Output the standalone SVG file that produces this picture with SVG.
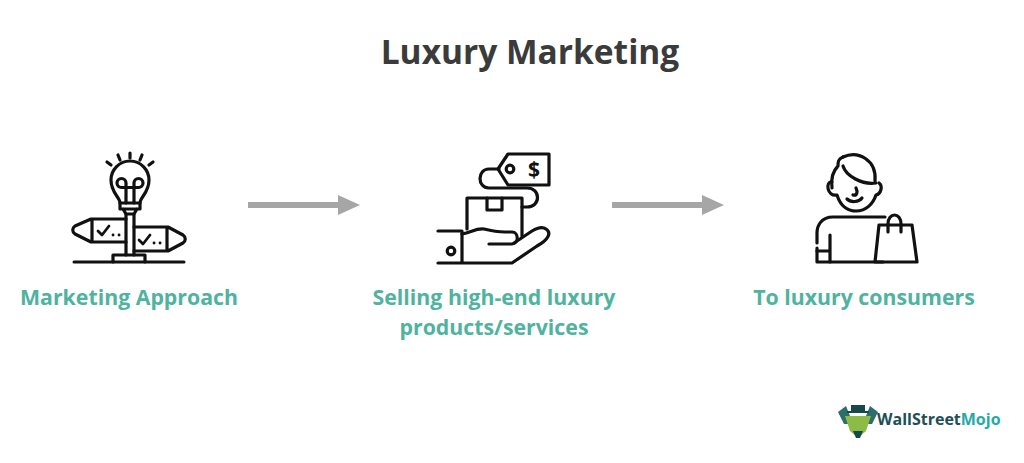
<svg xmlns="http://www.w3.org/2000/svg" width="1024" height="463" viewBox="0 0 1024 463">
<style>
.t{font-family:"Open Sans","Noto Sans",sans-serif;font-weight:700;text-anchor:middle}
.l{fill:#4fb3a0;font-size:21.3px}
.i{fill:none;stroke:#111;stroke-width:3.2;stroke-linecap:round;stroke-linejoin:round}
.c{fill:none;stroke:#a6a6a6;stroke-width:6}
.h{fill:#a6a6a6}
</style>
<rect width="1024" height="463" fill="#fff"/>
<text id="title" class="t" x="530" y="64" font-size="33.500" fill="#3b3b3b">Luxury Marketing</text>
<g id="connectors">
<path class="c" d="M248 205H340"/><path class="h" d="M338 195L360 205L338 215Z"/>
<path class="c" d="M612 205H704"/><path class="h" d="M702 195L724 205L702 215Z"/>
</g>
<g id="node-approach">
<g class="i">
<path d="M120 203C120 197 111 193 111 180A18.500 18.500 0 0 1 149 180C149 193 140 197 140 203Z"/>
<path d="M126 203V183A4.500 4.500 0 1 0 121.500 187.500H138.500A4.500 4.500 0 1 0 134 183V203"/>
<path d="M120 203V209H140V203M123 209L126 214H134L137 209"/>
<path d="M126 214V255M134 214V255"/>
<path d="M126 219H91L75 226C72 228 72 232 75 234L91 242H126M92 219V242"/>
<path d="M134 227H168L183 235C186 237 186 241 183 243L168 251H134M167 227V251"/>
<path d="M113 262V255H145V262"/>
<path d="M74 262H184" stroke-width="3"/>
<path d="M130 153V158M118 155L120 160M142 155L140 160M107 162L111 165M153 162L149 165"/>
<path d="M98 231L102 235L109 226M113 235H113.100M119 235H119.100" stroke-width="2.800"/>
<path d="M139 240L143 244L150 235M154 243H154.100M160 243H160.100" stroke-width="2.800"/>
</g>
</g>
<g id="node-selling">
<g class="i">
<path d="M498 169L508 154H549V185H508Z"/>
<circle cx="510" cy="169" r="3.800"/>
<path d="M499 169H489C477 169 477 188 489 188H527C541 188 541 207 527 207H522"/>
<path d="M467 229V198H522V236"/>
<path d="M487 198V210H502V198"/>
<path d="M438 231H462V263M438 263H512L537 246C548 240 552 233 546 229C542 226 537 228 532 231L514 243"/>
<path d="M462 234C472 232 476 228 484 229C492 231 498 232 505 232H512C519 232 519 244 512 244H489"/>
<circle cx="451" cy="251" r="3.800"/>
</g>
<text x="534" y="177" font-family="Open Sans,sans-serif" font-size="21" font-weight="700" text-anchor="middle" fill="#111">$</text>
</g>
<g id="node-consumers">
<g class="i">
<path d="M843 157C858 150 877 160 875 181"/>
<path d="M838 166C832 172 831 180 832 188M843 157C838 159 838 162 838 166"/>
<path d="M843 166C846 176 862 185 876 183"/>
<path d="M832 182C825 181 827 197 837 195C841 208 850 211 856 211C866 211 873 204 876 195C881 194 883 186 879 183"/>
<path d="M856 188C858 192 857 196 853 195M847 199C851 203 859 202 862 198"/>
<path d="M885 217H833C821 217 817 226 817 233V243M817 248V262H883"/>
<path d="M830 235V262M817 251H830"/>
<path d="M879 225H912L917 262H875Z"/>
<path d="M888 232V224C888 212 901 212 901 224V232"/>
</g>
</g>
<text class="t l" x="129" y="305">Marketing Approach</text>
<text class="t l" x="494" y="305">Selling high-end luxury</text>
<text class="t l" x="494" y="335">products/services</text>
<text class="t l" x="864" y="305">To luxury consumers</text>
<g id="logo">
<path d="M838 412L846 406L850 416H866L870 406L878 412L872 424H844Z" fill="#2c6e6c"/>
<path d="M845 416H871L866 431L858 438L850 431Z" fill="#8cbb46"/>
<path d="M847 411H869V413H847ZM851 405H865V411H851Z" fill="#17484c"/>
<path d="M853 431H863L860 438H856Z" fill="#17484c"/>
<text x="877" y="425" font-family="Open Sans,sans-serif" font-size="16" font-weight="700"><tspan fill="#1d4f56">WallStreet</tspan><tspan fill="#27a9a6">Mojo</tspan></text>
</g>
</svg>
